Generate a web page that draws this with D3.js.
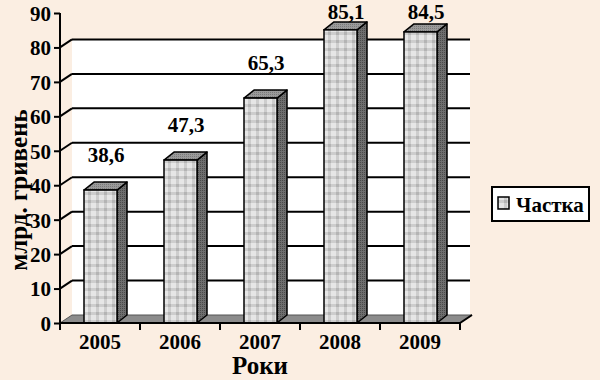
<!DOCTYPE html>
<html><head><meta charset="utf-8">
<script src="https://cdn.jsdelivr.net/npm/d3@7"></script>
<style>body{margin:0;background:#FBEEE2;}svg{display:block;}</style>
</head><body>
<svg id="c" width="600" height="380"></svg>
<script>
const years = ["2005","2006","2007","2008","2009"];
const values = [38.6, 47.3, 65.3, 85.1, 84.5];
const labels = ["38,6","47,3","65,3","85,1","84,5"];
const yTicks = [0,10,20,30,40,50,60,70,80,90];
const gridTicks = [10,20,30,40,50,60,70,80];
const seriesName = "Частка";
const yTitle = "млрд. гривень";
const xTitle = "Роки";

const svg = d3.select("#c");
const font = "'Liberation Serif','Times New Roman',serif";
const W=600,H=380;
svg.append("rect").attr("width",W).attr("height",H).attr("fill","#FBEEE2");

const x = d3.scaleBand().domain(years).range([60,460]).paddingInner(0).paddingOuter(0);
const y = d3.scaleLinear().domain([0,90]).range([323,13]);
const dx = 12, dy = 8;     // wall depth
const bdx = 10, bdy = 8;   // bar depth

const defs = svg.append("defs");
const pf = defs.append("pattern").attr("id","plaid").attr("patternUnits","userSpaceOnUse").attr("width",8).attr("height",8);
pf.append("rect").attr("width",8).attr("height",8).attr("fill","#e6e6e6");
pf.append("rect").attr("x",0).attr("y",0).attr("width",3).attr("height",8).attr("fill","#cdcdcd");
pf.append("rect").attr("x",0).attr("y",0).attr("width",8).attr("height",3).attr("fill","#cdcdcd");
pf.append("rect").attr("x",0).attr("y",0).attr("width",3).attr("height",3).attr("fill","#b4b4b4");
const ps = defs.append("pattern").attr("id","side").attr("patternUnits","userSpaceOnUse").attr("width",2).attr("height",2);
ps.append("rect").attr("width",2).attr("height",2).attr("fill","#6e6e6e");
ps.append("rect").attr("width",1).attr("height",1).attr("fill","#4a4a4a");
const pt = defs.append("pattern").attr("id","top").attr("patternUnits","userSpaceOnUse").attr("width",2).attr("height",2);
pt.append("rect").attr("width",2).attr("height",2).attr("fill","#9a9a9a");
pt.append("rect").attr("width",1).attr("height",1).attr("fill","#7a7a7a");

// back wall
svg.append("rect").attr("x",60+dx).attr("y",y(80)-dy).attr("width",398).attr("height",y(0)-y(80))
  .attr("fill","#fff");
// gridlines + diagonals
gridTicks.forEach(t=>{
  svg.append("line").attr("x1",60+dx).attr("x2",470).attr("y1",y(t)-dy).attr("y2",y(t)-dy)
    .attr("stroke","#000").attr("stroke-width",2);
  svg.append("line").attr("x1",60).attr("x2",60+dx).attr("y1",y(t)).attr("y2",y(t)-dy)
    .attr("stroke","#000").attr("stroke-width",2);
});
// floor
svg.append("path").attr("d",`M60,${y(0)}L460,${y(0)}L${460+dx},${y(0)-dy}L${60+dx},${y(0)-dy}Z`)
  .attr("fill","#8c8c8c").attr("stroke","#555").attr("stroke-width",1);

// bars
const g = svg.append("g");
years.forEach((yr,i)=>{
  const cx = x(yr)+x.bandwidth()/2;
  const x0 = cx-16, x1 = cx+17;
  const yt = y(values[i]), yb = y(0);
  g.append("path").attr("d",`M${x1},${yb}L${x1+bdx},${yb-bdy}L${x1+bdx},${yt-bdy}L${x1},${yt}Z`)
    .attr("fill","url(#side)").attr("stroke","#000").attr("stroke-width",1.5).attr("stroke-linejoin","round");
  g.append("path").attr("d",`M${x0},${yt}L${x0+bdx},${yt-bdy}L${x1+bdx},${yt-bdy}L${x1},${yt}Z`)
    .attr("fill","url(#top)").attr("stroke","#000").attr("stroke-width",1.5).attr("stroke-linejoin","round");
  g.append("rect").attr("x",x0).attr("y",yt).attr("width",x1-x0).attr("height",yb-yt)
    .attr("fill","url(#plaid)").attr("stroke","#000").attr("stroke-width",1.5);
  g.append("text").attr("x",cx+6).attr("y",Math.max(yt-28,19)).attr("text-anchor","middle")
    .attr("font-family",font).attr("font-weight","bold").attr("font-size",21).text(labels[i]);
});

// y axis
const ya = svg.append("g").attr("transform","translate(60,0)")
  .call(d3.axisLeft(y).tickValues(yTicks).tickSize(6).tickPadding(3).tickFormat(d3.format("d")));
ya.select(".domain").attr("stroke","#000").attr("stroke-width",2).attr("d",`M0,${y(90)}V${y(0)}`);
ya.selectAll(".tick line").attr("stroke","#000").attr("stroke-width",2);
ya.selectAll(".tick text").attr("font-family",font).attr("font-weight","bold").attr("font-size",21).attr("fill","#000").attr("dy","0.35em");

// x axis
const xa = svg.append("g").attr("transform",`translate(0,${y(0)})`)
  .call(d3.axisBottom(x).tickSize(0).tickPadding(11));
xa.select(".domain").attr("stroke","#000").attr("stroke-width",2).attr("d","M60,0H460");
xa.selectAll(".tick text").attr("font-family",font).attr("font-weight","bold").attr("font-size",21).attr("fill","#000");
[60,140,220,300,380,460].forEach(v=>{
  xa.append("line").attr("x1",v).attr("x2",v).attr("y1",0).attr("y2",7).attr("stroke","#000").attr("stroke-width",2);
});
xa.append("line").attr("x1",460).attr("x2",460+dx).attr("y1",0).attr("y2",-dy).attr("stroke","#000").attr("stroke-width",2);

// titles
svg.append("text").attr("transform","translate(27,190) rotate(-90)").attr("text-anchor","middle")
  .attr("font-family",font).attr("font-weight","bold").attr("font-size",25).text(yTitle);
svg.append("text").attr("x",260).attr("y",374).attr("text-anchor","middle")
  .attr("font-family",font).attr("font-weight","bold").attr("font-size",25).text(xTitle);

// legend
const lg = svg.append("g");
lg.append("rect").attr("x",492).attr("y",187).attr("width",97).attr("height",34)
  .attr("fill","#fff").attr("stroke","#000").attr("stroke-width",2);
lg.append("rect").attr("x",498).attr("y",197).attr("width",11).attr("height",12)
  .attr("fill","url(#plaid)").attr("stroke","#000").attr("stroke-width",1.5);
lg.append("text").attr("x",516).attr("y",212).attr("font-family",font).attr("font-weight","bold")
  .attr("font-size",21).text(seriesName);
</script>
</body></html>
